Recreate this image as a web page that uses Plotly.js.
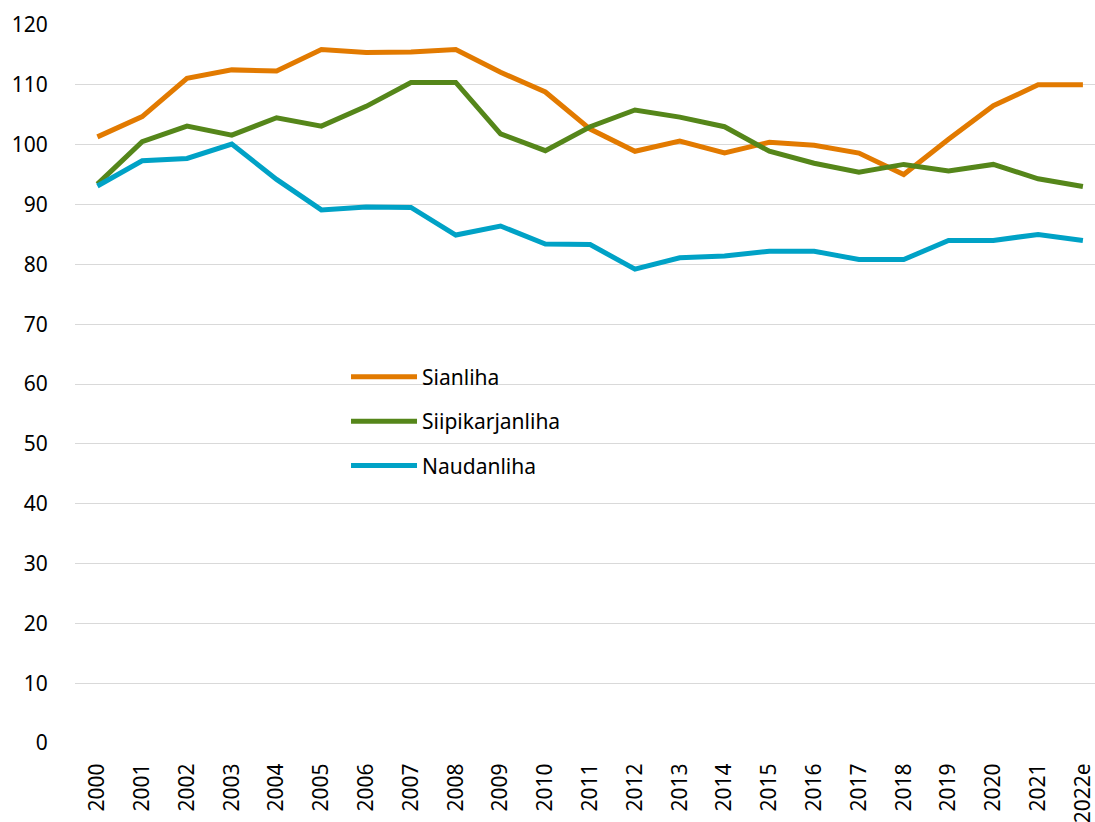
<!DOCTYPE html>
<html>
<head>
<meta charset="utf-8">
<script src="https://cdn.plot.ly/plotly-3.0.1.min.js"></script>
<style>html,body{margin:0;padding:0;background:#fff;}#chart{width:1095px;height:822px;}</style>
</head>
<body>
<div id="chart"></div>
<script>
const years = ["2000","2001","2002","2003","2004","2005","2006","2007","2008","2009","2010","2011","2012","2013","2014","2015","2016","2017","2018","2019","2020","2021","2022e"];
const sianliha = [101.3,104.7,111.1,112.5,112.3,115.9,115.4,115.5,115.9,112.1,108.8,102.6,98.9,100.6,98.6,100.4,99.9,98.6,95.0,100.9,106.5,110.0,110.0];
const siipikarjanliha = [93.4,100.5,103.1,101.6,104.5,103.1,106.4,110.4,110.4,101.8,99.0,103.0,105.8,104.6,103.0,98.9,96.9,95.4,96.7,95.6,96.7,94.3,93.0];
const naudanliha = [93.1,97.3,97.7,100.1,94.2,89.1,89.6,89.5,84.9,86.4,83.4,83.3,79.2,81.1,81.4,82.2,82.2,80.8,80.8,84.0,84.0,85.0,84.0];
const seriesNames = ["Sianliha","Siipikarjanliha","Naudanliha"];
const colors = ["#E27A00","#55861A","#00A2C6"];
const values = [sianliha, siipikarjanliha, naudanliha];

const traces = values.map((v,i)=>({
  x: years, y: v, type: 'scatter', mode: 'lines', name: seriesNames[i],
  legendgroup: 'g'+i,
  line: {color: colors[i], width: 5, shape: 'linear'}
}));

const font = {family: '"Noto Sans", "Open Sans", sans-serif', size: 21, color: '#000'};
const layout = {
  width: 1095, height: 822,
  margin: {l: 75, r: 0, t: 25, b: 79},
  paper_bgcolor: '#fff', plot_bgcolor: '#fff',
  font: font,
  showlegend: true,
  legend: {
    x: 0.2657, y: 0.538, xanchor: 'left', yanchor: 'top',
    bgcolor: 'rgba(255,255,255,0)', borderwidth: 0,
    font: font, itemwidth: 66, tracegroupgap: 14, traceorder: 'grouped'
  },
  shapes: [{
    type: 'rect', xref: 'paper', yref: 'paper', layer: 'between',
    x0: 0.2235, x1: 0.5206, y0: 0.345, y1: 0.561,
    fillcolor: '#ffffff', line: {width: 0}
  }],
  xaxis: {
    type: 'category', range: [-0.5, 22.27],
    tickangle: -90, showgrid: false, zeroline: false, showline: false,
    ticks: 'outside', ticklen: 11, tickcolor: 'rgba(0,0,0,0)',
    tickfont: font, fixedrange: true
  },
  yaxis: {
    range: [0, 120], dtick: 10, tick0: 0,
    showgrid: true, gridcolor: '#d9d9d9', gridwidth: 1,
    zeroline: false, showline: false,
    ticks: 'outside', ticklen: 22, tickcolor: 'rgba(0,0,0,0)',
    tickfont: font, fixedrange: true
  }
};
Plotly.newPlot('chart', traces, layout, {displayModeBar: false, staticPlot: true});
</script>
</body>
</html>
